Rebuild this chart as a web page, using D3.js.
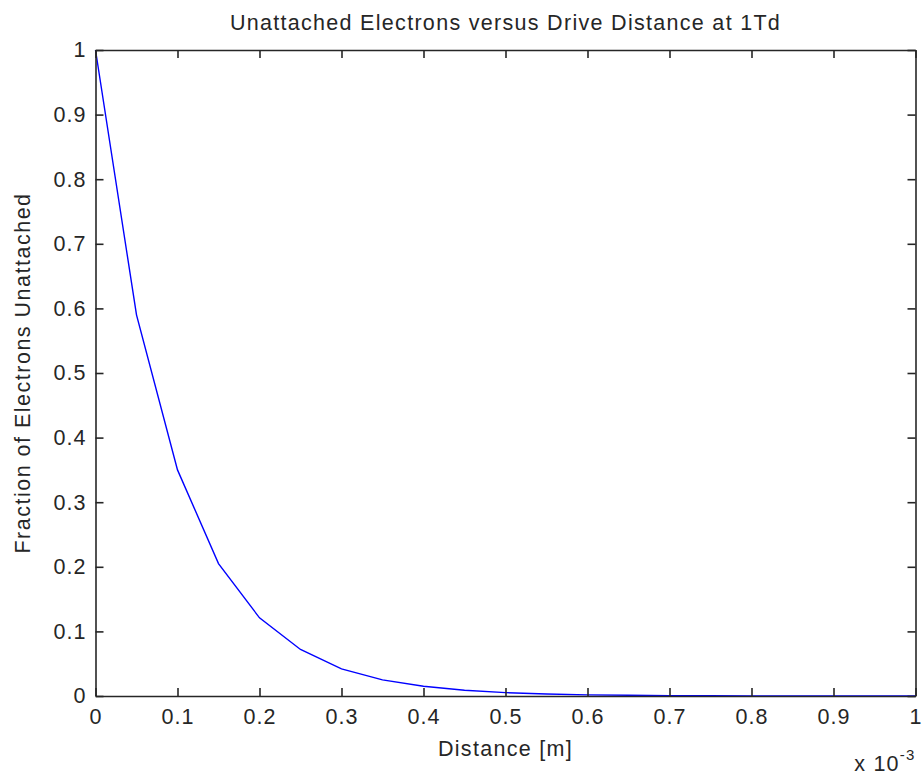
<!DOCTYPE html>
<html>
<head>
<meta charset="utf-8">
<script src="https://cdn.jsdelivr.net/npm/d3@7/dist/d3.min.js"></script>
<style>
  html, body { margin: 0; padding: 0; background: #fff; }
  svg { display: block; }
  text { font-family: "Liberation Sans", Arial, sans-serif; fill: #262626; }
</style>
</head>
<body>
<svg id="chart" width="923" height="775"></svg>
<script>
// Distance along the drive, in units of 1e-3 m
const distance = [0, 0.05, 0.1, 0.15, 0.2, 0.25, 0.3, 0.35, 0.4, 0.45, 0.5,
                  0.55, 0.6, 0.65, 0.7, 0.75, 0.8, 0.85, 0.9, 0.95, 1.0];
// Fraction of electrons still unattached at each distance
const fractionUnattached = [1.0, 0.59, 0.35, 0.205, 0.121, 0.072, 0.042, 0.025, 0.015, 0.009, 0.0052,
                            0.0031, 0.0018, 0.0011, 0.0006, 0.0004, 0.0002, 0.00013, 0.00008, 0.00005, 0.00003];
const xTicks = [0, 0.1, 0.2, 0.3, 0.4, 0.5, 0.6, 0.7, 0.8, 0.9, 1];
const yTicks = [0, 0.1, 0.2, 0.3, 0.4, 0.5, 0.6, 0.7, 0.8, 0.9, 1];

const titleText = "Unattached Electrons versus Drive Distance at 1Td";
const xLabel = "Distance [m]";
const yLabel = "Fraction of Electrons Unattached";

const svg = d3.select("#chart");
const margin = { left: 95.5, right: 7.5, top: 50, bottom: 79 };
const W = 923, H = 775;
const x0 = margin.left, x1 = W - margin.right;
const y0 = margin.top, y1 = H - margin.bottom;

const x = d3.scaleLinear().domain([0, 1]).range([x0, x1]);
const y = d3.scaleLinear().domain([0, 1]).range([y1, y0]);

const fs = 21.5;
const tickLen = 8;
const axisColor = "#262626";

// data line
const line = d3.line().x((d, i) => x(distance[i])).y(d => y(d));
svg.append("path")
  .datum(fractionUnattached)
  .attr("fill", "none")
  .attr("stroke", "#0000ff")
  .attr("stroke-width", 1.4)
  .attr("d", line);

// axes with inward ticks, mirrored on top and right
function styleAxis(g) {
  g.select(".domain").attr("stroke", axisColor).attr("stroke-width", 1.6);
  g.selectAll(".tick line").attr("stroke", axisColor).attr("stroke-width", 1.6);
  g.selectAll(".tick text")
    .style("font-size", fs + "px")
    .style("letter-spacing", "1px")
    .attr("fill", "#262626");
}

svg.append("g")
  .attr("transform", `translate(0,${y1})`)
  .call(d3.axisBottom(x).tickValues(xTicks).tickSizeInner(-tickLen).tickSizeOuter(0)
        .tickPadding(13).tickFormat(d3.format("~g")))
  .call(styleAxis);

svg.append("g")
  .attr("transform", `translate(0,${y0})`)
  .call(d3.axisTop(x).tickValues(xTicks).tickSizeInner(-tickLen).tickSizeOuter(0).tickFormat(""))
  .call(styleAxis);

svg.append("g")
  .attr("transform", `translate(${x0},0)`)
  .call(d3.axisLeft(y).tickValues(yTicks).tickSizeInner(-tickLen).tickSizeOuter(0)
        .tickPadding(9).tickFormat(d3.format("~g")))
  .call(styleAxis);

svg.append("g")
  .attr("transform", `translate(${x1},0)`)
  .call(d3.axisRight(y).tickValues(yTicks).tickSizeInner(-tickLen).tickSizeOuter(0).tickFormat(""))
  .call(styleAxis);

// title
svg.append("text")
  .attr("x", (x0 + x1) / 2)
  .attr("y", 30)
  .attr("text-anchor", "middle")
  .style("font-size", fs + "px")
  .style("letter-spacing", "1.3px")
  .text(titleText);

// x axis label
svg.append("text")
  .attr("x", (x0 + x1) / 2)
  .attr("y", 756)
  .attr("text-anchor", "middle")
  .style("font-size", fs + "px")
  .style("letter-spacing", "1.3px")
  .text(xLabel);

// y axis label
svg.append("text")
  .attr("transform", `translate(30,${(y0 + y1) / 2}) rotate(-90)`)
  .attr("text-anchor", "middle")
  .style("font-size", fs + "px")
  .style("letter-spacing", "1.5px")
  .text(yLabel);

// exponent of the x axis
const expo = svg.append("text")
  .attr("x", x1)
  .attr("y", 771)
  .attr("text-anchor", "end")
  .style("font-size", fs + "px")
  .style("letter-spacing", "1.2px");
expo.append("tspan").text("x 10");
expo.append("tspan").attr("dy", -11).style("font-size", "15px").text("-3");
</script>
</body>
</html>
